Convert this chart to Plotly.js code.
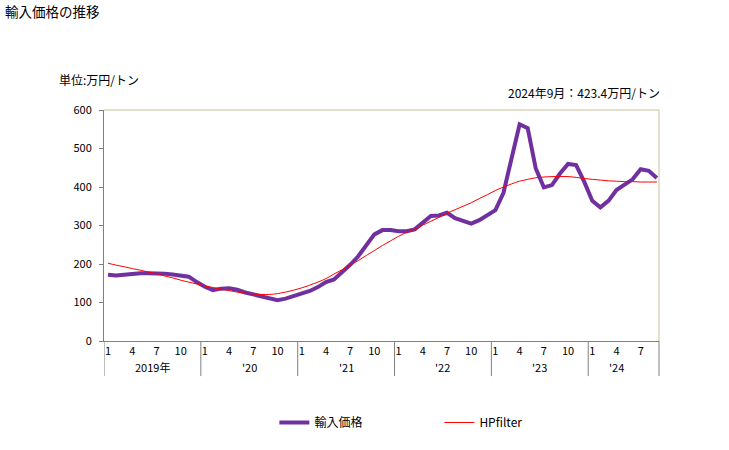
<!DOCTYPE html>
<html>
<head>
<meta charset="utf-8">
<script src="https://cdn.plot.ly/plotly-3.0.1.min.js"></script>
<style>
html,body{margin:0;padding:0;background:#fff;}
#chart{width:729px;height:450px;}
</style>
</head>
<body>
<div id="chart"></div>
<script>
// Data (monthly, Jan 2019 - Sep 2024)
const years = ["2019年", "'20", "'21", "'22", "'23", "'24"];
const monthTicks = ["1", "4", "7", "10"];
const importPrice = [
  172, 170, 172, 175, 176, 176, 176, 175, 173, 170, 167, 153,
  141, 132, 136, 137, 133, 126, 121, 116, 110, 106, 110, 117,
  124, 130, 140, 153, 160, 178, 198, 220, 250, 277, 288, 288,
  285, 285, 290, 307, 325, 326, 333, 319, 312, 305, 314, 327,
  340, 385, 475, 563, 553, 448, 399, 405, 435, 460, 457, 414,
  364, 347, 364, 392, 406, 420, 446, 442, 423.4
];
const hpFilter = [
  202, 197, 193, 188, 184, 179, 175, 169, 164, 158, 153, 148,
  143, 139, 135, 131, 127, 124, 122, 121, 121, 123, 127, 132,
  138, 145, 153, 162, 174, 185, 197, 209, 222, 235, 248, 260,
  272, 282, 291, 301, 311, 321, 332, 341, 350, 359, 370, 380,
  391, 400, 408, 415, 420, 424, 426, 427, 427, 427, 425, 422,
  420, 418, 416, 415, 414, 414, 413, 413, 413
];
const yTicks = [0, 100, 200, 300, 400, 500, 600];
const seriesNames = ["輸入価格", "HPfilter"];
const unitLabel = "単位:万円/トン";
const latestLabel = "2024年9月：423.4万円/トン";
const chartTitle = "輸入価格の推移";

const n = importPrice.length;
const xIdx = importPrice.map((_, i) => i);
const tickvals = [], ticktext = [];
for (let i = 0; i < n; i++) {
  const m = i % 12;
  if (m % 3 === 0) { tickvals.push(i); ticktext.push(monthTicks[m / 3]); }
}

const FONT = "'Noto Sans CJK JP', 'Noto Sans', sans-serif";
const GRAY = "#808080";
const KHAKI = "#c8c09c";

const shapes = [];
// year separators below axis
for (let k = 0; k < years.length; k++) {
  shapes.push({type: "line", xref: "x", yref: "paper", x0: k * 12 - 0.5, x1: k * 12 - 0.5,
    y0: 0, y1: -0.152, line: {color: GRAY, width: 1}});
}
shapes.push({type: "line", xref: "paper", yref: "paper", x0: 1, x1: 1, y0: 0, y1: -0.152, line: {color: GRAY, width: 1}});
// top and right border
shapes.push({type: "line", xref: "paper", yref: "paper", x0: 0, x1: 1, y0: 1, y1: 1, line: {color: KHAKI, width: 1}});
shapes.push({type: "line", xref: "paper", yref: "paper", x0: 1, x1: 1, y0: 0, y1: 1, line: {color: KHAKI, width: 1}});

const annotations = [];
years.forEach((y, k) => {
  const start = k * 12;
  const end = Math.min(start + 11, n - 1);
  const center = (k === years.length - 1) ? start + 3 : (start + end) / 2;
  annotations.push({text: y, xref: "x", yref: "paper", x: center, y: -0.113,
    showarrow: false, xanchor: "center", yanchor: "middle", font: {family: FONT, size: 11, color: "#000"}});
});
annotations.push({text: unitLabel, xref: "paper", yref: "paper", x: -0.085, y: 1.13,
  xanchor: "left", yanchor: "middle", showarrow: false, font: {family: FONT, size: 12, color: "#000"}});
annotations.push({text: latestLabel, xref: "paper", yref: "paper", x: 1.006, y: 1.075,
  xanchor: "right", yanchor: "middle", showarrow: false, font: {family: FONT, size: 12, color: "#000"}});

const traces = [
  {x: xIdx, y: importPrice, name: seriesNames[0], type: "scatter", mode: "lines",
   line: {color: "#7030a0", width: 4}},
  {x: xIdx, y: hpFilter, name: seriesNames[1], type: "scatter", mode: "lines",
   line: {color: "#ff0000", width: 1, shape: "spline"}}
];

const layout = {
  width: 729, height: 450,
  margin: {l: 104, r: 70, t: 110, b: 109, pad: 0},
  paper_bgcolor: "#fff", plot_bgcolor: "#fff",
  font: {family: FONT, size: 11, color: "#000"},
  title: {text: chartTitle, x: 0.007, xanchor: "left", y: 0.973, yanchor: "middle",
          font: {family: FONT, size: 13.5, color: "#000"}},
  xaxis: {range: [-0.5, 68.27], tickmode: "array", tickvals: tickvals, ticktext: ticktext,
          showgrid: false, zeroline: false, showline: true, linecolor: GRAY, linewidth: 1,
          ticks: "", tickfont: {family: FONT, size: 11, color: "#000"}, fixedrange: true},
  yaxis: {range: [0, 600], tickmode: "array", tickvals: yTicks, showgrid: false, zeroline: false,
          showline: true, linecolor: GRAY, linewidth: 1, ticks: "outside", ticklen: 4,
          tickcolor: GRAY, tickfont: {family: FONT, size: 11, color: "#000"},
          ticklabelstandoff: 5, fixedrange: true},
  showlegend: true,
  legend: {orientation: "h", x: 0.307, xanchor: "left", y: -0.29, yanchor: "top",
           entrywidth: 120, entrywidthmode: "pixels",
           font: {family: FONT, size: 12, color: "#000"}, bgcolor: "rgba(0,0,0,0)"},
  shapes: shapes,
  annotations: annotations
};

Plotly.newPlot("chart", traces, layout, {displayModeBar: false, staticPlot: true});
</script>
</body>
</html>
